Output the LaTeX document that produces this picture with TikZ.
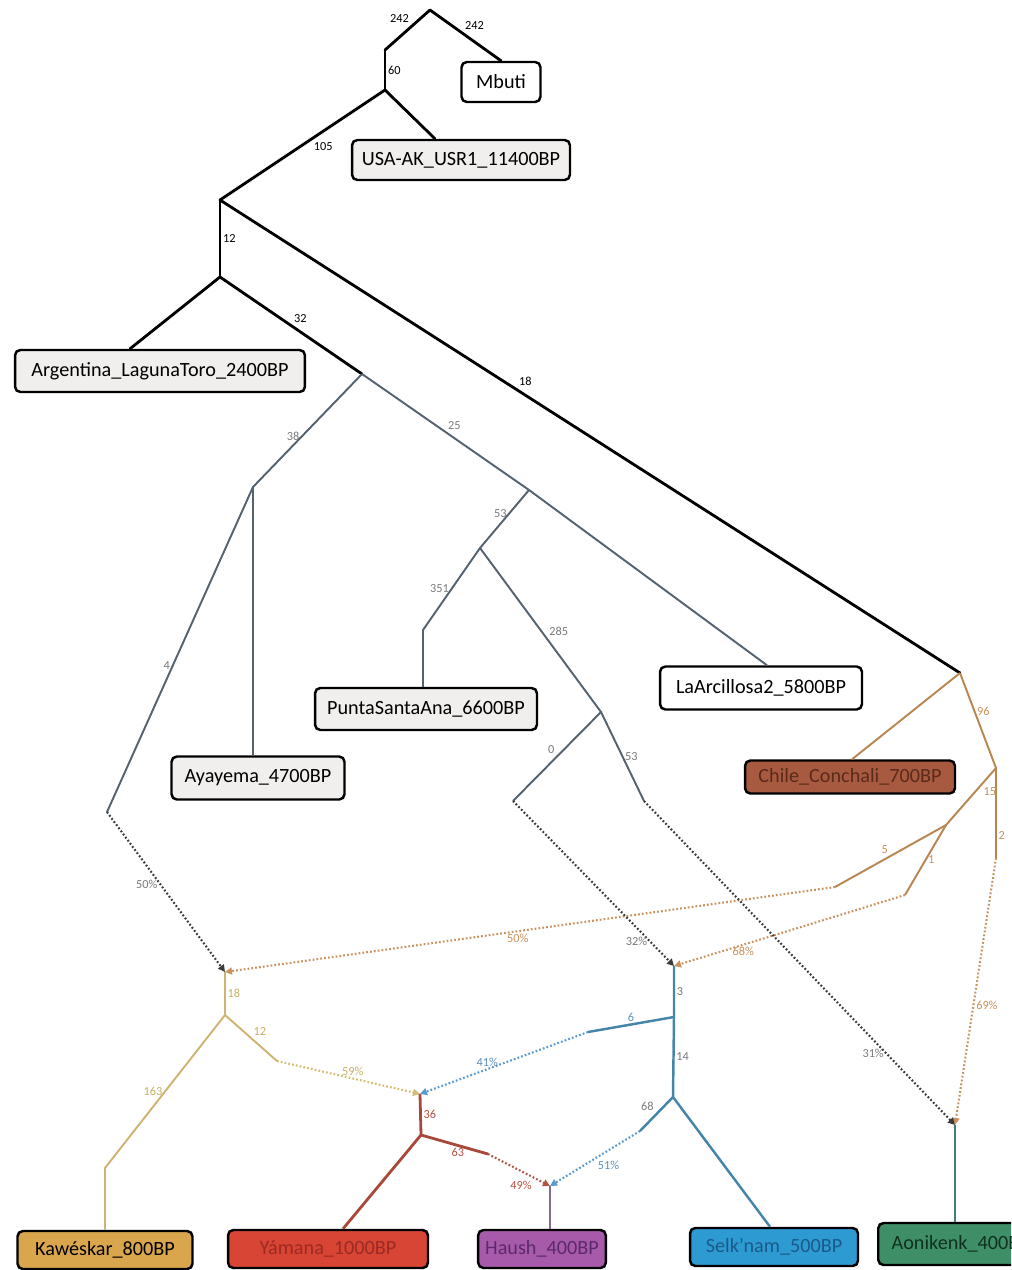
\documentclass[tikz,border=0pt]{standalone}
\usepackage{fontspec}
\setmainfont{Carlito}
\usetikzlibrary{calc, arrows.meta}

\definecolor{slate}{HTML}{55626F}
\definecolor{boxgray}{HTML}{F1EFED}
\definecolor{mixblack}{HTML}{3A3A3A}
\definecolor{lengray}{HTML}{7A7A7A}
\definecolor{chile}{HTML}{B98550}
\definecolor{chilelab}{HTML}{C8905A}
\definecolor{chiledot}{HTML}{C8925E}
\definecolor{chilefill}{HTML}{A85A40}
\definecolor{chiletext}{HTML}{5A2A1A}
\definecolor{kaw}{HTML}{CDB470}
\definecolor{kawlab}{HTML}{C9AE60}
\definecolor{kawdot}{HTML}{D4BC70}
\definecolor{kawfill}{HTML}{D9A64E}
\definecolor{yamc}{HTML}{A8483A}
\definecolor{yamlab}{HTML}{B85040}
\definecolor{yamdot}{HTML}{B05545}
\definecolor{yamfill}{HTML}{D84535}
\definecolor{yamtext}{HTML}{9A2A22}
\definecolor{hauc}{HTML}{8A6A8A}
\definecolor{haufill}{HTML}{A85AAA}
\definecolor{hautext}{HTML}{5A2A6A}
\definecolor{selc}{HTML}{4585AA}
\definecolor{sellab}{HTML}{5890C0}
\definecolor{seldot}{HTML}{5A9AD0}
\definecolor{selfill}{HTML}{2E9AD2}
\definecolor{seltext}{HTML}{1A5A8A}
\definecolor{aonc}{HTML}{3F7D78}
\definecolor{aonfill}{HTML}{3E8E68}
\definecolor{aontext}{HTML}{10301E}

\begin{document}
\begin{tikzpicture}[x=0.02cm, y=-0.02cm,
    pop/.style={draw=black, line width=1.4pt, rounded corners=3pt, fill=white, inner sep=0pt, font=\fontsize{11.5}{13}\selectfont},
    blen/.style={font=\fontsize{7}{8}\selectfont, inner sep=1pt},
    trunk/.style={line width=1.6pt, line cap=round, line join=round},
    twig/.style={line width=1.1pt, line join=round},
    mix/.style={line width=1.2pt, dash pattern=on 1pt off 1.2pt, -{Triangle[length=4pt, width=4pt]}}]
  \useasboundingbox (0,0) rectangle (1011,1270);
  \clip (0,0) rectangle (1011,1270);

  \coordinate (root) at (430,10);
  \coordinate (a60) at (385,50);
  \coordinate (b60) at (385,90);
  \coordinate (b12) at (220,200);
  \coordinate (c12) at (220,277);
  \coordinate (s32) at (362,374);
  \coordinate (n38) at (253,487);
  \coordinate (e4) at (107,812);
  \coordinate (n25) at (529,490);
  \coordinate (n53) at (480,548);
  \coordinate (p351) at (423,630);
  \coordinate (n285) at (601,712);
  \coordinate (e0) at (513,801);
  \coordinate (e53) at (644,801);
  \coordinate (n18) at (960,673);
  \coordinate (n96) at (996,768);
  \coordinate (e2) at (996,858);
  \coordinate (n15) at (946,825);
  \coordinate (e5) at (835,887);
  \coordinate (e1) at (905,895);
  \coordinate (kaw) at (225,972);
  \coordinate (k18) at (225,1015);
  \coordinate (e12) at (277,1061);
  \coordinate (k163) at (105,1168);
  \coordinate (yam) at (420,1094);
  \coordinate (y36) at (421,1135);
  \coordinate (e63) at (488,1154);
  \coordinate (hau) at (550,1186);
  \coordinate (sel) at (674,966);
  \coordinate (s3) at (674,1017);
  \coordinate (e6) at (588,1032);
  \coordinate (s14) at (673,1097);
  \coordinate (e68) at (640,1131);
  \coordinate (aon) at (955,1125);

  \node[pop, minimum width=1.58cm, minimum height=0.8cm] (mbuti) at (501,82) {Mbuti};
  \node[pop, fill=boxgray, minimum width=4.36cm, minimum height=0.8cm] (usa) at (461,160) {USA-AK\_USR1\_11400BP};
  \node[pop, fill=boxgray, minimum width=5.8cm, minimum height=0.84cm] (arg) at (160,371) {Argentina\_LagunaToro\_2400BP};
  \node[pop, fill=boxgray, minimum width=3.46cm, minimum height=0.86cm] (aya) at (258,778) {Ayayema\_4700BP};
  \node[pop, fill=boxgray, minimum width=4.44cm, minimum height=0.84cm] (punta) at (426,709) {PuntaSantaAna\_6600BP};
  \node[pop, minimum width=4.04cm, minimum height=0.86cm] (lar) at (761,688) {LaArcillosa2\_5800BP};
  \node[pop, fill=chilefill, text=chiletext, minimum width=4.2cm, minimum height=0.66cm] (chl) at (850,777) {Chile\_Conchali\_700BP};
  \node[pop, fill=kawfill, minimum width=3.5cm, minimum height=0.76cm] (kawbox) at (105,1250) {Kawéskar\_800BP};
  \node[pop, fill=yamfill, text=yamtext, minimum width=4cm, minimum height=0.76cm] (yambox) at (328,1249) {Yámana\_1000BP};
  \node[pop, fill=haufill, text=hautext, inner xsep=4pt, minimum width=2.4cm, minimum height=0.76cm] (haubox) at (542,1249) {Haush\_400BP};
  \node[pop, fill=selfill, text=seltext, minimum width=3.36cm, minimum height=0.76cm] (selbox) at (774,1247) {Selk'nam\_500BP};
  \node[pop, fill=aonfill, text=aontext, anchor=west, minimum width=3.3cm, minimum height=0.84cm] (aonbox) at (877,1244) {Aonikenk\_400BP};

  \draw[trunk] (a60) -- node[blen, above left, pos=0.6] {242} (root) -- node[blen, above right, pos=0.45] {242} (mbuti.north);
  \draw[trunk] (a60) -- node[blen, right] {60} (b60);
  \draw[trunk] (b60) -- ($(usa.north)+(-26,0)$);
  \draw[trunk] (b60) -- node[blen, below right, pos=0.45] {105} (b12);
  \draw[trunk] (b12) -- node[blen, right] {12} (c12);
  \draw[trunk] (c12) -- ($(arg.north)+(-30,0)$);
  \draw[trunk] (c12) -- node[blen, above right, pos=0.5] {32} (s32);
  \draw[trunk] (b12) -- node[blen, above right, pos=0.4] {18} (n18);

  \draw[twig, slate] (s32) -- node[blen, lengray, left, pos=0.55] {38} (n38) -- (n38 |- aya.north);
  \draw[twig, slate] (n38) -- node[blen, lengray, left, pos=0.55] {4} (e4);
  \draw[twig, slate] (s32) -- node[blen, lengray, above right, pos=0.5] {25} (n25) -- ($(lar.north)+(6,0)$);
  \draw[twig, slate] (n25) -- node[blen, lengray, left, pos=0.4] {53} (n53) -- node[blen, lengray, left] {351} (p351) -- (p351 |- punta.north);
  \draw[twig, slate] (n53) -- node[blen, lengray, above right, pos=0.55] {285} (n285) -- node[blen, lengray, right] {53} (e53);
  \draw[twig, slate] (n285) -- node[blen, lengray, above left] {0} (e0);

  \draw[twig, chile] (n18) -- ($(chl.north)+(2,0)$);
  \draw[twig, chile] (n18) -- node[blen, chilelab, right, pos=0.4] {96} (n96) -- node[blen, chilelab, right, pos=0.75] {2} (e2);
  \draw[twig, chile] (n96) -- node[blen, chilelab, below right, pos=0.3] {15} (n15) -- node[blen, chilelab, above left] {5} (e5);
  \draw[twig, chile] (n15) -- node[blen, chilelab, right] {1} (e1);

  \draw[mix, mixblack] (e4) -- node[blen, lengray, left, pos=0.45] {50\%} (kaw);
  \draw[mix, chiledot] (e5) -- node[blen, chilelab, below, pos=0.52] {50\%} (kaw);
  \draw[mix, chiledot] (e1) -- node[blen, chilelab, below, pos=0.7] {68\%} (sel);
  \draw[mix, chiledot] (e2) -- node[blen, chilelab, right, pos=0.55] {69\%} (aon);
  \draw[mix, mixblack] (e0) -- node[blen, lengray, left, pos=0.85] {32\%} (sel);
  \draw[mix, mixblack] (e53) -- node[blen, lengray, left, pos=0.78] {31\%} (aon);
  \draw[mix, kawdot] (e12) -- node[blen, kawlab, above, pos=0.53] {59\%} (yam);
  \draw[mix, seldot] (e6) -- node[blen, sellab, above, pos=0.6] {41\%} (yam);
  \draw[mix, yamdot] (e63) -- node[blen, yamlab, below left, pos=0.75] {49\%} (hau);
  \draw[mix, seldot] (e68) -- node[blen, sellab, below right, pos=0.5] {51\%} (hau);

  \draw[twig, kaw] (kaw) -- node[blen, kawlab, right] {18} (k18) -- node[blen, kawlab, above right] {12} (e12);
  \draw[twig, kaw] (k18) -- node[blen, kawlab, left, pos=0.5] {163} (k163) -- (kawbox.north);
  \draw[twig, yamc, line width=1.6pt] (yam) -- node[blen, yamlab, right] {36} (y36) -- node[blen, yamlab, below, pos=0.55] {63} (e63);
  \draw[twig, yamc, line width=1.6pt] (y36) -- ($(yambox.north)+(15,0)$);
  \draw[twig, hauc] (hau) -- (hau |- haubox.north);
  \draw[twig, selc, line width=1.4pt] (sel) -- node[blen, lengray, right] {3} (s3) -- node[blen, lengray, right] {14} (s14) -- ($(selbox.north)+(-4,0)$);
  \draw[twig, selc, line width=1.4pt] (s3) -- node[blen, sellab, above] {6} (e6);
  \draw[twig, selc, line width=1.4pt] (s14) -- node[blen, lengray, above left] {68} (e68);
  \draw[twig, aonc, line width=1.4pt] (aon) -- (aon |- aonbox.north);
\end{tikzpicture}
\end{document}
